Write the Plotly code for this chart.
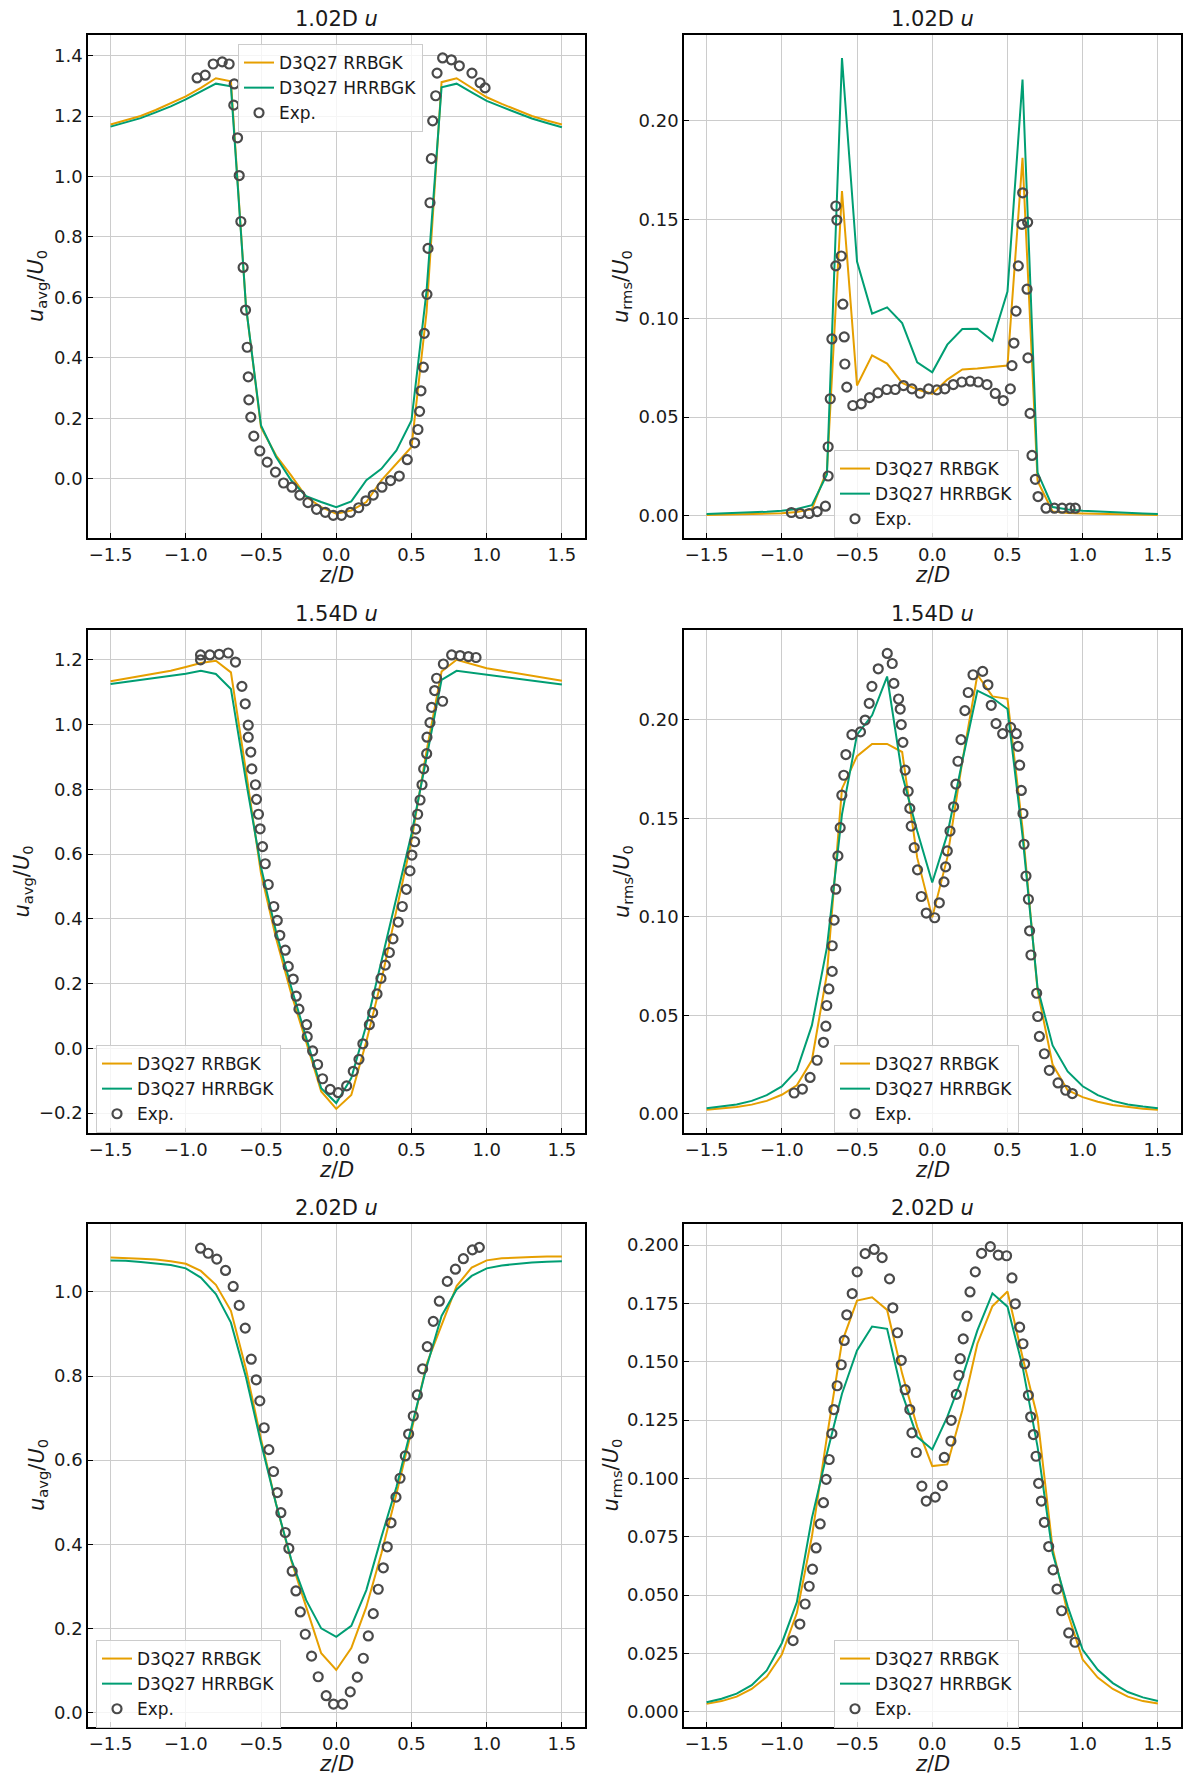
import plotly.graph_objects as go

# ---------------- data ----------------
z_sim = [-1.5, -1.4, -1.3, -1.2, -1.1, -1.0, -0.9, -0.8, -0.7, -0.6, -0.5, -0.4, -0.3, -0.2, -0.1,
         0.0, 0.1, 0.2, 0.3, 0.4, 0.5, 0.6, 0.7, 0.8, 0.9, 1.0, 1.1, 1.2, 1.3, 1.4, 1.5]

# 1.02D  u_avg
rr_avg_102 = [1.172, 1.185, 1.200, 1.220, 1.242, 1.265, 1.293, 1.325, 1.315, 0.570, 0.170, 0.077, 0.011, -0.060, -0.094,
              -0.116, -0.105, -0.077, -0.005, 0.050, 0.105, 0.550, 1.312, 1.325, 1.292, 1.262, 1.240, 1.220, 1.200, 1.185, 1.172]
hr_avg_102 = [1.165, 1.178, 1.193, 1.212, 1.232, 1.255, 1.280, 1.307, 1.298, 0.570, 0.176, 0.072, -0.005, -0.058, -0.077,
              -0.094, -0.075, -0.005, 0.033, 0.094, 0.193, 0.620, 1.295, 1.307, 1.278, 1.250, 1.230, 1.210, 1.192, 1.177, 1.163]
exp_z_avg_102 = [-0.925, -0.871, -0.818, -0.758, -0.712, -0.678, -0.681, -0.656, -0.645, -0.634, -0.619, -0.603, -0.592,
                 -0.585, -0.581, -0.568, -0.548, -0.508, -0.459, -0.404, -0.350, -0.295, -0.242, -0.188, -0.131, -0.073,
                 -0.020, 0.035, 0.095, 0.149, 0.197, 0.246, 0.304, 0.361, 0.419, 0.472, 0.521, 0.543, 0.554, 0.563,
                 0.579, 0.585, 0.603, 0.610, 0.623, 0.632, 0.641, 0.661, 0.670, 0.707, 0.765, 0.818, 0.902, 0.956, 0.989]
exp_avg_102 = [1.326, 1.335, 1.372, 1.379, 1.372, 1.306, 1.236, 1.128, 1.003, 0.851, 0.699, 0.558, 0.435,
               0.337, 0.261, 0.204, 0.141, 0.092, 0.055, 0.022, -0.014, -0.028, -0.054, -0.079, -0.101, -0.111,
               -0.121, -0.121, -0.111, -0.096, -0.073, -0.054, -0.028, -0.006, 0.009, 0.063, 0.119, 0.163, 0.223, 0.291,
               0.369, 0.481, 0.610, 0.762, 0.913, 1.059, 1.184, 1.267, 1.342, 1.392, 1.386, 1.366, 1.342, 1.310, 1.293]

# 1.02D  u_rms
rr_rms_102 = [0.0005, 0.0006, 0.0007, 0.0008, 0.0010, 0.0013, 0.0020, 0.0034, 0.0230, 0.1645, 0.0660, 0.0813, 0.0771, 0.0673, 0.0640,
              0.0618, 0.0690, 0.0741, 0.0746, 0.0753, 0.0761, 0.1813, 0.0177, 0.0022, 0.0015, 0.0012, 0.0010, 0.0008, 0.0007, 0.0006, 0.0005]
hr_rms_102 = [0.0010, 0.0012, 0.0014, 0.0017, 0.0021, 0.0026, 0.0035, 0.0054, 0.0210, 0.2318, 0.1288, 0.1024, 0.1056, 0.0976, 0.0778,
              0.0727, 0.0867, 0.0946, 0.0948, 0.0887, 0.1136, 0.2209, 0.0219, 0.0045, 0.0032, 0.0026, 0.0022, 0.0018, 0.0015, 0.0012, 0.0010]
exp_z_rms_102 = [-0.936, -0.878, -0.818, -0.765, -0.710, -0.692, -0.692, -0.678, -0.667, -0.641, -0.634, -0.605, -0.641,
                 -0.594, -0.585, -0.581, -0.568, -0.528, -0.472, -0.417, -0.361, -0.302, -0.246, -0.191, -0.135, -0.080,
                 -0.024, 0.031, 0.084, 0.140, 0.197, 0.253, 0.306, 0.364, 0.419, 0.472, 0.519, 0.530, 0.543, 0.557,
                 0.572, 0.601, 0.596, 0.634, 0.630, 0.636, 0.650, 0.663, 0.685, 0.703, 0.756, 0.812, 0.863, 0.916, 0.951]
exp_rms_102 = [0.0017, 0.0012, 0.0012, 0.0022, 0.0049, 0.0202, 0.0350, 0.0593, 0.0896, 0.1569, 0.1498, 0.1316, 0.1266,
               0.1072, 0.0906, 0.0769, 0.0652, 0.0559, 0.0567, 0.0599, 0.0623, 0.0640, 0.0640, 0.0660, 0.0643, 0.0621,
               0.0643, 0.0638, 0.0643, 0.0665, 0.0678, 0.0682, 0.0678, 0.0665, 0.0620, 0.0584, 0.0643, 0.0761, 0.0875, 0.1037,
               0.1266, 0.1636, 0.1476, 0.1487, 0.1148, 0.0800, 0.0519, 0.0306, 0.0185, 0.0098, 0.0039, 0.0039, 0.0039, 0.0039, 0.0039]

# 1.54D  u_avg
rr_avg_154 = [1.134, 1.142, 1.150, 1.158, 1.166, 1.178, 1.190, 1.197, 1.161, 0.856, 0.540, 0.340, 0.170, 0.020, -0.133,
              -0.187, -0.144, 0.021, 0.210, 0.426, 0.641, 0.918, 1.164, 1.200, 1.187, 1.174, 1.166, 1.158, 1.150, 1.142, 1.135]
hr_avg_154 = [1.125, 1.131, 1.137, 1.143, 1.149, 1.157, 1.166, 1.156, 1.110, 0.826, 0.559, 0.360, 0.190, 0.035, -0.123,
              -0.169, -0.092, 0.072, 0.272, 0.467, 0.662, 0.897, 1.138, 1.166, 1.160, 1.154, 1.148, 1.142, 1.136, 1.130, 1.124]
exp_z_avg_154 = [-0.902, -0.902, -0.840, -0.778, -0.718, -0.670, -0.627, -0.605, -0.585, -0.585, -0.568, -0.561, -0.537,
                 -0.530, -0.517, -0.506, -0.490, -0.472, -0.452, -0.415, -0.392, -0.375, -0.339, -0.319, -0.286, -0.266,
                 -0.248, -0.197, -0.193, -0.157, -0.124, -0.091, -0.040, 0.013, 0.069, 0.113, 0.151, 0.177, 0.220, 0.242,
                 0.271, 0.297, 0.326, 0.353, 0.377, 0.412, 0.439, 0.466, 0.490, 0.503, 0.521, 0.528, 0.541, 0.557, 0.570,
                 0.581, 0.601, 0.603, 0.623, 0.634, 0.654, 0.667, 0.707, 0.712, 0.767, 0.823, 0.878, 0.929]
exp_avg_154 = [1.215, 1.200, 1.215, 1.217, 1.221, 1.193, 1.118, 1.064, 0.998, 0.961, 0.915, 0.863, 0.814,
               0.769, 0.723, 0.678, 0.623, 0.570, 0.506, 0.438, 0.395, 0.349, 0.303, 0.253, 0.214, 0.161,
               0.121, 0.073, 0.036, -0.008, -0.050, -0.094, -0.127, -0.137, -0.116, -0.071, -0.034, 0.014, 0.073, 0.110,
               0.168, 0.216, 0.257, 0.296, 0.338, 0.390, 0.438, 0.491, 0.548, 0.597, 0.638, 0.677, 0.723, 0.767, 0.814,
               0.863, 0.910, 0.961, 1.006, 1.053, 1.105, 1.143, 1.072, 1.187, 1.215, 1.213, 1.210, 1.207]

# 1.54D  u_rms
rr_rms_154 = [0.0021, 0.0027, 0.0035, 0.0047, 0.0066, 0.0097, 0.0145, 0.0272, 0.0710, 0.1650, 0.1815, 0.1877, 0.1877, 0.1836, 0.1300,
              0.0997, 0.1300, 0.1790, 0.2228, 0.2118, 0.2106, 0.1450, 0.0626, 0.0250, 0.0120, 0.0085, 0.0062, 0.0045, 0.0034, 0.0026, 0.0021]
hr_rms_154 = [0.0029, 0.0037, 0.0048, 0.0066, 0.0095, 0.0139, 0.0221, 0.0449, 0.0845, 0.1520, 0.1924, 0.2022, 0.2219, 0.1720, 0.1435,
              0.1174, 0.1418, 0.1790, 0.2147, 0.2110, 0.2054, 0.1410, 0.0640, 0.0347, 0.0215, 0.0140, 0.0095, 0.0066, 0.0048, 0.0037, 0.0029]
exp_z_rms_154 = [-0.918, -0.863, -0.812, -0.765, -0.723, -0.707, -0.701, -0.687, -0.665, -0.665, -0.652, -0.641, -0.627,
                 -0.612, -0.601, -0.588, -0.574, -0.534, -0.477, -0.446, -0.419, -0.401, -0.359, -0.299, -0.266, -0.255,
                 -0.224, -0.213, -0.206, -0.195, -0.180, -0.160, -0.149, -0.140, -0.120, -0.098, -0.073, -0.040, 0.016,
                 0.047, 0.078, 0.089, 0.100, 0.118, 0.142, 0.157, 0.171, 0.191, 0.217, 0.239, 0.271, 0.335, 0.370, 0.392,
                 0.424, 0.468, 0.521, 0.559, 0.570, 0.581, 0.592, 0.603, 0.610, 0.623, 0.639, 0.647, 0.656, 0.694, 0.701,
                 0.712, 0.745, 0.778, 0.836, 0.887, 0.931]
exp_rms_154 = [0.0106, 0.0126, 0.0185, 0.0272, 0.0363, 0.0445, 0.0550, 0.0634, 0.0723, 0.0853, 0.0983, 0.1140, 0.1309,
               0.1452, 0.1617, 0.1718, 0.1823, 0.1924, 0.1938, 0.1998, 0.2083, 0.2169, 0.2258, 0.2336, 0.2285, 0.2184,
               0.2105, 0.2054, 0.1975, 0.1885, 0.1744, 0.1637, 0.1550, 0.1460, 0.1351, 0.1238, 0.1103, 0.1019, 0.0995,
               0.1071, 0.1177, 0.1253, 0.1334, 0.1435, 0.1558, 0.1673, 0.1789, 0.1899, 0.2046, 0.2138, 0.2228, 0.2245, 0.2177, 0.2073,
               0.1980, 0.1929, 0.1961, 0.1929, 0.1865, 0.1769, 0.1641, 0.1524, 0.1368, 0.1207, 0.1089, 0.0929, 0.0806, 0.0612, 0.0494,
               0.0393, 0.0305, 0.0221, 0.0157, 0.0120, 0.0103]

# 2.02D  u_avg
rr_avg_202 = [1.082, 1.081, 1.079, 1.077, 1.073, 1.067, 1.050, 1.017, 0.955, 0.817, 0.650, 0.496, 0.362, 0.251, 0.141,
              0.101, 0.153, 0.251, 0.378, 0.520, 0.670, 0.828, 0.923, 1.014, 1.058, 1.075, 1.080, 1.082, 1.083, 1.084, 1.084]
hr_avg_202 = [1.075, 1.074, 1.071, 1.068, 1.064, 1.056, 1.034, 0.995, 0.927, 0.797, 0.641, 0.496, 0.365, 0.267, 0.200,
              0.180, 0.206, 0.291, 0.417, 0.536, 0.678, 0.821, 0.943, 1.006, 1.038, 1.056, 1.063, 1.067, 1.070, 1.072, 1.073]
exp_z_avg_202 = [-0.902, -0.851, -0.794, -0.736, -0.685, -0.645, -0.605, -0.565, -0.532, -0.508, -0.479, -0.448, -0.417,
                 -0.392, -0.368, -0.339, -0.315, -0.293, -0.268, -0.239, -0.206, -0.164, -0.120, -0.067, -0.018, 0.042,
                 0.093, 0.140, 0.180, 0.213, 0.246, 0.279, 0.313, 0.339, 0.364, 0.397, 0.424, 0.459, 0.481, 0.512, 0.539,
                 0.574, 0.605, 0.645, 0.685, 0.738, 0.792, 0.845, 0.905, 0.951]
exp_avg_202 = [1.104, 1.092, 1.078, 1.051, 1.013, 0.968, 0.914, 0.840, 0.791, 0.741, 0.677, 0.625, 0.573,
               0.523, 0.475, 0.428, 0.390, 0.336, 0.289, 0.239, 0.186, 0.134, 0.085, 0.040, 0.020, 0.020,
               0.049, 0.084, 0.129, 0.182, 0.235, 0.293, 0.344, 0.394, 0.451, 0.512, 0.557, 0.610, 0.662, 0.705, 0.755,
               0.817, 0.870, 0.930, 0.978, 1.025, 1.054, 1.079, 1.100, 1.106]

# 2.02D  u_rms
rr_rms_202 = [0.0034, 0.0046, 0.0065, 0.0098, 0.0150, 0.0245, 0.0423, 0.0751, 0.1178, 0.1584, 0.1762, 0.1776, 0.1722, 0.1449, 0.1221,
              0.1053, 0.1060, 0.1292, 0.1577, 0.1738, 0.1801, 0.1520, 0.1260, 0.0700, 0.0423, 0.0224, 0.0147, 0.0098, 0.0065, 0.0046, 0.0036]
hr_rms_202 = [0.0041, 0.0056, 0.0078, 0.0114, 0.0177, 0.0294, 0.0470, 0.0830, 0.1107, 0.1363, 0.1548, 0.1651, 0.1641, 0.1363, 0.1178,
              0.1124, 0.1264, 0.1434, 0.1634, 0.1793, 0.1736, 0.1480, 0.1135, 0.0680, 0.0452, 0.0266, 0.0180, 0.0123, 0.0085, 0.0062, 0.0046]
exp_z_rms_202 = [-0.925, -0.880, -0.845, -0.818, -0.796, -0.772, -0.745, -0.723, -0.705, -0.685, -0.667, -0.654, -0.632,
                 -0.605, -0.585, -0.568, -0.532, -0.499, -0.446, -0.386, -0.333, -0.284, -0.262, -0.231, -0.206, -0.180,
                 -0.149, -0.135, -0.106, -0.069, -0.040, 0.020, 0.067, 0.080, 0.124, 0.126, 0.160, 0.177, 0.186, 0.206,
                 0.231, 0.251, 0.286, 0.328, 0.386, 0.439, 0.494, 0.530, 0.552, 0.581, 0.603, 0.614, 0.639, 0.654, 0.672,
                 0.690, 0.707, 0.725, 0.745, 0.774, 0.803, 0.829, 0.860, 0.907, 0.949]
exp_rms_202 = [0.0305, 0.0376, 0.0462, 0.0538, 0.0611, 0.0702, 0.0805, 0.0896, 0.0996, 0.1081, 0.1192, 0.1295, 0.1397,
               0.1487, 0.1591, 0.1701, 0.1792, 0.1885, 0.1963, 0.1981, 0.1946, 0.1855, 0.1731, 0.1624, 0.1506, 0.1380,
               0.1295, 0.1195, 0.1111, 0.0967, 0.0903, 0.0920, 0.0969, 0.1090, 0.1160, 0.1249, 0.1360, 0.1442, 0.1513, 0.1598,
               0.1695, 0.1799, 0.1885, 0.1964, 0.1993, 0.1957, 0.1954, 0.1859, 0.1748, 0.1648, 0.1577, 0.1491, 0.1356, 0.1264, 0.1188,
               0.1095, 0.0979, 0.0903, 0.0812, 0.0708, 0.0608, 0.0526, 0.0433, 0.0338, 0.0298]

titles = ["1.02D <i>u</i>", "1.02D <i>u</i>", "1.54D <i>u</i>", "1.54D <i>u</i>", "2.02D <i>u</i>", "2.02D <i>u</i>"]
series_names = ["D3Q27 RRBGK", "D3Q27 HRRBGK", "Exp."]
x_ticks = [-1.5, -1.0, -0.5, 0.0, 0.5, 1.0, 1.5]

# ---------------- styling / layout ----------------
W, H = 1189, 1790
ORANGE = "#E69F00"
GREEN = "#009E73"
EXPC = "#4a4a4a"
FONT = "DejaVu Sans"
TXT = "#1a1a1a"

col_px = [(88.0, 584.5), (684.0, 1180.5)]
row_px = [(35.0, 538.0), (630.0, 1133.0), (1224.0, 1727.0)]

panels = [
    dict(rr=rr_avg_102, hr=hr_avg_102, ez=exp_z_avg_102, ev=exp_avg_102, yr=[-0.196, 1.468], dt=0.2, fmt=".1f",
         ylab="<i>u</i><sub>avg</sub>/<i>U</i><sub>0</sub>", ylx=37.5, leg=(238, 44)),
    dict(rr=rr_rms_102, hr=hr_rms_102, ez=exp_z_rms_102, ev=exp_rms_102, yr=[-0.0112, 0.2435], dt=0.05, fmt=".2f",
         ylab="<i>u</i><sub>rms</sub>/<i>U</i><sub>0</sub>", ylx=622.5, leg=(834, 450)),
    dict(rr=rr_avg_154, hr=hr_avg_154, ez=exp_z_avg_154, ev=exp_avg_154, yr=[-0.2615, 1.292], dt=0.2, fmt=".1f",
         ylab="<i>u</i><sub>avg</sub>/<i>U</i><sub>0</sub>", ylx=22.0, leg=(96, 1045)),
    dict(rr=rr_rms_154, hr=hr_rms_154, ez=exp_z_rms_154, ev=exp_rms_154, yr=[-0.0097, 0.2455], dt=0.05, fmt=".2f",
         ylab="<i>u</i><sub>rms</sub>/<i>U</i><sub>0</sub>", ylx=622.5, leg=(834, 1045)),
    dict(rr=rr_avg_202, hr=hr_avg_202, ez=exp_z_avg_202, ev=exp_avg_202, yr=[-0.0345, 1.1615], dt=0.2, fmt=".1f",
         ylab="<i>u</i><sub>avg</sub>/<i>U</i><sub>0</sub>", ylx=37.5, leg=(96, 1640)),
    dict(rr=rr_rms_202, hr=hr_rms_202, ez=exp_z_rms_202, ev=exp_rms_202, yr=[-0.0065, 0.209], dt=0.025, fmt=".3f",
         ylab="<i>u</i><sub>rms</sub>/<i>U</i><sub>0</sub>", ylx=611.0, leg=(834, 1640)),
]

fig = go.Figure()
layout = dict(width=W, height=H, margin=dict(l=0, r=0, t=0, b=0), autosize=False,
              paper_bgcolor="white", plot_bgcolor="white",
              font=dict(family=FONT, size=18, color=TXT))
annotations = []

for i, p in enumerate(panels):
    r, c = divmod(i, 2)
    n = "" if i == 0 else str(i + 1)
    xa, ya = "x" + n, "y" + n
    lg = "legend" + n
    x0, x1 = col_px[c]
    ytop, ybot = row_px[r]
    xdom = [x0 / W, x1 / W]
    ydom = [1 - ybot / H, 1 - ytop / H]

    fig.add_trace(go.Scatter(x=z_sim, y=p["rr"], mode="lines", name=series_names[0],
                             line=dict(color=ORANGE, width=2), xaxis=xa, yaxis=ya, legend=lg))
    fig.add_trace(go.Scatter(x=z_sim, y=p["hr"], mode="lines", name=series_names[1],
                             line=dict(color=GREEN, width=2), xaxis=xa, yaxis=ya, legend=lg))
    fig.add_trace(go.Scatter(x=p["ez"], y=p["ev"], mode="markers", name=series_names[2],
                             marker=dict(symbol="circle-open", size=9, color=EXPC, line=dict(width=2.2)),
                             xaxis=xa, yaxis=ya, legend=lg))

    common = dict(showline=True, mirror=True, linecolor="black", linewidth=1.5,
                  showgrid=True, gridcolor="#cccccc", gridwidth=1, zeroline=False,
                  ticks="inside", ticklen=5, tickwidth=1, tickcolor="black",
                  tickfont=dict(family=FONT, size=18, color=TXT))
    layout["xaxis" + n] = dict(domain=xdom, anchor=ya, range=[-1.65, 1.65],
                               tickvals=x_ticks, tickformat=".1f", **common)
    layout["yaxis" + n] = dict(domain=ydom, anchor=xa, range=p["yr"],
                               tick0=0, dtick=p["dt"], tickformat=p["fmt"], **common)

    lx, ly = p["leg"]
    layout[lg] = dict(x=lx / W, y=1 - ly / H, xanchor="left", yanchor="top",
                      xref="paper", yref="paper",
                      bgcolor="rgba(255,255,255,0.8)", bordercolor="#cccccc", borderwidth=1,
                      font=dict(family=FONT, size=17, color=TXT), tracegroupgap=0)

    xc = (x0 + x1) / 2
    # title
    annotations.append(dict(text=titles[i], x=xc / W, y=1 - (ytop - 16) / H, xref="paper", yref="paper",
                            xanchor="center", yanchor="middle", showarrow=False,
                            font=dict(family=FONT, size=21, color=TXT)))
    # x label
    annotations.append(dict(text="<i>z</i>/<i>D</i>", x=xc / W, y=1 - (ybot + 37) / H, xref="paper", yref="paper",
                            xanchor="center", yanchor="middle", showarrow=False,
                            font=dict(family=FONT, size=21, color=TXT)))
    # y label
    annotations.append(dict(text=p["ylab"], x=p["ylx"] / W, y=1 - ((ytop + ybot) / 2) / H, xref="paper", yref="paper",
                            xanchor="center", yanchor="middle", showarrow=False, textangle=-90,
                            font=dict(family=FONT, size=21, color=TXT)))

layout["annotations"] = annotations
fig.update_layout(**layout)
fig.write_html("out.html")
